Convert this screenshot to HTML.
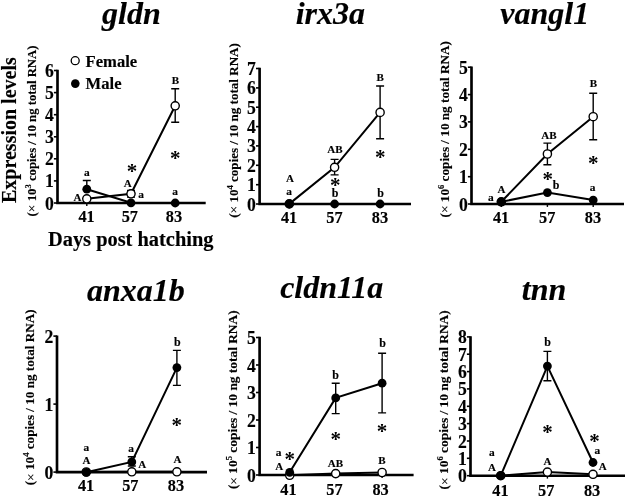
<!DOCTYPE html>
<html><head><meta charset="utf-8"><title>Expression levels</title>
<style>html,body{margin:0;padding:0;background:#fff}svg{display:block}text{font-family:"Liberation Serif",serif;font-weight:bold;fill:#000;stroke:#000;stroke-width:0.15px;stroke-linejoin:round}</style>
</head><body>
<svg width="627" height="498" viewBox="0 0 627 498">
<rect width="627" height="498" fill="#fff"/>
<defs><filter id="soft" x="0" y="0" width="627" height="498" filterUnits="userSpaceOnUse"><feGaussianBlur stdDeviation="0.45"/></filter></defs>
<g filter="url(#soft)">
<g>
<text x="131.4" y="24" font-size="32" font-style="italic" text-anchor="middle">gldn</text>
<path d="M57.5 69.8V203.0H205.7" fill="none" stroke="#000" stroke-width="2.65" stroke-linejoin="miter"/>
<line x1="53.9" x2="57.5" y1="203.0" y2="203.0" stroke="#000" stroke-width="1.6"/>
<text transform="translate(53.8 209.5) scale(0.96 1)" font-size="18.4" text-anchor="end">0</text>
<line x1="53.9" x2="57.5" y1="180.9" y2="180.9" stroke="#000" stroke-width="1.6"/>
<text transform="translate(53.8 187.4) scale(0.96 1)" font-size="18.4" text-anchor="end">1</text>
<line x1="53.9" x2="57.5" y1="158.8" y2="158.8" stroke="#000" stroke-width="1.6"/>
<text transform="translate(53.8 165.3) scale(0.96 1)" font-size="18.4" text-anchor="end">2</text>
<line x1="53.9" x2="57.5" y1="136.8" y2="136.8" stroke="#000" stroke-width="1.6"/>
<text transform="translate(53.8 143.3) scale(0.96 1)" font-size="18.4" text-anchor="end">3</text>
<line x1="53.9" x2="57.5" y1="114.7" y2="114.7" stroke="#000" stroke-width="1.6"/>
<text transform="translate(53.8 121.2) scale(0.96 1)" font-size="18.4" text-anchor="end">4</text>
<line x1="53.9" x2="57.5" y1="92.6" y2="92.6" stroke="#000" stroke-width="1.6"/>
<text transform="translate(53.8 99.1) scale(0.96 1)" font-size="18.4" text-anchor="end">5</text>
<line x1="53.9" x2="57.5" y1="70.5" y2="70.5" stroke="#000" stroke-width="1.6"/>
<text transform="translate(53.8 77.0) scale(0.96 1)" font-size="18.4" text-anchor="end">6</text>
<line x1="86.8" x2="86.8" y1="203.0" y2="205.9" stroke="#000" stroke-width="1.4"/>
<text x="86.6" y="222.4" font-size="16.3" text-anchor="middle">41</text>
<line x1="131.0" x2="131.0" y1="203.0" y2="205.9" stroke="#000" stroke-width="1.4"/>
<text x="129.8" y="222.4" font-size="16.3" text-anchor="middle">57</text>
<line x1="175.2" x2="175.2" y1="203.0" y2="205.9" stroke="#000" stroke-width="1.4"/>
<text x="174.0" y="222.4" font-size="16.3" text-anchor="middle">83</text>
<text transform="translate(35.5 216.4) rotate(-90)" font-size="12.75">(<tspan font-weight="normal" font-size="13.5" dy="0.9" style="font-weight:normal">×</tspan><tspan dy="-0.9"> 10</tspan><tspan dy="-4.8" font-size="8.6">3</tspan><tspan dy="4.8"> copies / 10 ng total RNA)</tspan></text>
<path d="M82.8 180.5H90.8M86.8 180.5V189.2M82.8 189.2H90.8" fill="none" stroke="#000" stroke-width="1.4"/>
<path d="M171.2 88.7H179.2M175.2 88.7V122.2M171.2 122.2H179.2" fill="none" stroke="#000" stroke-width="1.4"/>
<path d="M127.0 190.5H135.0M131.0 190.5V197M127.0 197H135.0" fill="none" stroke="#000" stroke-width="1.4"/>
<polyline points="86.8,198.8 131.0,193.8 175.2,105.8" fill="none" stroke="#000" stroke-width="2.0"/>
<circle cx="86.8" cy="198.8" r="4.1" fill="#fff" stroke="#000" stroke-width="1.4"/>
<circle cx="131.0" cy="193.8" r="4.1" fill="#fff" stroke="#000" stroke-width="1.4"/>
<circle cx="175.2" cy="105.8" r="4.1" fill="#fff" stroke="#000" stroke-width="1.4"/>
<polyline points="86.8,189.2 131.0,202.8 175.2,203.0" fill="none" stroke="#000" stroke-width="2.0"/>
<circle cx="86.8" cy="189.2" r="4.4" fill="#000"/>
<circle cx="131.0" cy="202.8" r="4.4" fill="#000"/>
<circle cx="175.2" cy="203.0" r="4.4" fill="#000"/>
<text x="86.8" y="176.2" font-size="11.4" text-anchor="middle">a</text>
<text x="77.6" y="201.3" font-size="11" text-anchor="middle">A</text>
<text x="127.8" y="187.2" font-size="11" text-anchor="middle">A</text>
<text x="141.0" y="197.9" font-size="11.4" text-anchor="middle">a</text>
<text x="175.4" y="84.2" font-size="11" text-anchor="middle">B</text>
<text x="175.2" y="195.4" font-size="11.4" text-anchor="middle">a</text>
<text x="131.9" y="177.8" font-size="21" text-anchor="middle" stroke="none" style="stroke:none">*</text>
<text x="175.3" y="164.7" font-size="21" text-anchor="middle" stroke="none" style="stroke:none">*</text>
</g>
<g>
<text x="330.3" y="24" font-size="32" font-style="italic" text-anchor="middle">irx3a</text>
<path d="M259.6 67.8V204.0H411" fill="none" stroke="#000" stroke-width="2.65" stroke-linejoin="miter"/>
<line x1="256.0" x2="259.6" y1="204.0" y2="204.0" stroke="#000" stroke-width="1.6"/>
<text transform="translate(255.9 210.5) scale(0.96 1)" font-size="18.4" text-anchor="end">0</text>
<line x1="256.0" x2="259.6" y1="184.7" y2="184.7" stroke="#000" stroke-width="1.6"/>
<text transform="translate(255.9 191.2) scale(0.96 1)" font-size="18.4" text-anchor="end">1</text>
<line x1="256.0" x2="259.6" y1="165.3" y2="165.3" stroke="#000" stroke-width="1.6"/>
<text transform="translate(255.9 171.8) scale(0.96 1)" font-size="18.4" text-anchor="end">2</text>
<line x1="256.0" x2="259.6" y1="145.9" y2="145.9" stroke="#000" stroke-width="1.6"/>
<text transform="translate(255.9 152.4) scale(0.96 1)" font-size="18.4" text-anchor="end">3</text>
<line x1="256.0" x2="259.6" y1="126.6" y2="126.6" stroke="#000" stroke-width="1.6"/>
<text transform="translate(255.9 133.1) scale(0.96 1)" font-size="18.4" text-anchor="end">4</text>
<line x1="256.0" x2="259.6" y1="107.2" y2="107.2" stroke="#000" stroke-width="1.6"/>
<text transform="translate(255.9 113.8) scale(0.96 1)" font-size="18.4" text-anchor="end">5</text>
<line x1="256.0" x2="259.6" y1="87.9" y2="87.9" stroke="#000" stroke-width="1.6"/>
<text transform="translate(255.9 94.4) scale(0.96 1)" font-size="18.4" text-anchor="end">6</text>
<line x1="256.0" x2="259.6" y1="68.5" y2="68.5" stroke="#000" stroke-width="1.6"/>
<text transform="translate(255.9 75.0) scale(0.96 1)" font-size="18.4" text-anchor="end">7</text>
<line x1="289.3" x2="289.3" y1="204.0" y2="206.9" stroke="#000" stroke-width="1.4"/>
<text x="289.1" y="223.0" font-size="16.3" text-anchor="middle">41</text>
<line x1="334.6" x2="334.6" y1="204.0" y2="206.9" stroke="#000" stroke-width="1.4"/>
<text x="334.4" y="223.0" font-size="16.3" text-anchor="middle">57</text>
<line x1="380.1" x2="380.1" y1="204.0" y2="206.9" stroke="#000" stroke-width="1.4"/>
<text x="379.9" y="223.0" font-size="16.3" text-anchor="middle">83</text>
<text transform="translate(237.5 217.8) rotate(-90)" font-size="13.06">(<tspan font-weight="normal" font-size="13.5" dy="0.9" style="font-weight:normal">×</tspan><tspan dy="-0.9"> 10</tspan><tspan dy="-4.8" font-size="8.6">4</tspan><tspan dy="4.8"> copies / 10 ng total RNA)</tspan></text>
<path d="M330.6 159.4H338.6M334.6 159.4V174.9M330.6 174.9H338.6" fill="none" stroke="#000" stroke-width="1.4"/>
<path d="M376.1 86.0H384.1M380.1 86.0V138.8M376.1 138.8H384.1" fill="none" stroke="#000" stroke-width="1.4"/>
<polyline points="289.3,203.9 334.6,167.3 380.1,112.4" fill="none" stroke="#000" stroke-width="2.0"/>
<circle cx="289.3" cy="203.9" r="4.1" fill="#fff" stroke="#000" stroke-width="1.4"/>
<circle cx="334.6" cy="167.3" r="4.1" fill="#fff" stroke="#000" stroke-width="1.4"/>
<circle cx="380.1" cy="112.4" r="4.1" fill="#fff" stroke="#000" stroke-width="1.4"/>
<polyline points="289.3,204 334.6,204 380.1,204" fill="none" stroke="#000" stroke-width="2.0"/>
<circle cx="289.3" cy="204" r="4.4" fill="#000"/>
<circle cx="334.6" cy="204" r="4.4" fill="#000"/>
<circle cx="380.1" cy="204" r="4.4" fill="#000"/>
<text x="289.9" y="182.0" font-size="11" text-anchor="middle">A</text>
<text x="289.0" y="195.2" font-size="11.4" text-anchor="middle">a</text>
<text x="334.9" y="153.0" font-size="11" text-anchor="middle">AB</text>
<text x="380.2" y="81.3" font-size="11" text-anchor="middle">B</text>
<text x="335.2" y="196.6" font-size="12" text-anchor="middle">b</text>
<text x="380.7" y="196.6" font-size="12" text-anchor="middle">b</text>
<text x="335.3" y="191.6" font-size="21" text-anchor="middle" stroke="none" style="stroke:none">*</text>
<text x="380.2" y="163.9" font-size="21" text-anchor="middle" stroke="none" style="stroke:none">*</text>
</g>
<g>
<text x="544.8" y="23.5" font-size="32" font-style="italic" text-anchor="middle">vangl1</text>
<path d="M471.5 66.5V204.0H624" fill="none" stroke="#000" stroke-width="2.65" stroke-linejoin="miter"/>
<line x1="467.9" x2="471.5" y1="204.0" y2="204.0" stroke="#000" stroke-width="1.6"/>
<text transform="translate(467.8 210.5) scale(0.96 1)" font-size="18.4" text-anchor="end">0</text>
<line x1="467.9" x2="471.5" y1="176.7" y2="176.7" stroke="#000" stroke-width="1.6"/>
<text transform="translate(467.8 183.2) scale(0.96 1)" font-size="18.4" text-anchor="end">1</text>
<line x1="467.9" x2="471.5" y1="149.3" y2="149.3" stroke="#000" stroke-width="1.6"/>
<text transform="translate(467.8 155.8) scale(0.96 1)" font-size="18.4" text-anchor="end">2</text>
<line x1="467.9" x2="471.5" y1="121.9" y2="121.9" stroke="#000" stroke-width="1.6"/>
<text transform="translate(467.8 128.4) scale(0.96 1)" font-size="18.4" text-anchor="end">3</text>
<line x1="467.9" x2="471.5" y1="94.6" y2="94.6" stroke="#000" stroke-width="1.6"/>
<text transform="translate(467.8 101.1) scale(0.96 1)" font-size="18.4" text-anchor="end">4</text>
<line x1="467.9" x2="471.5" y1="67.2" y2="67.2" stroke="#000" stroke-width="1.6"/>
<text transform="translate(467.8 73.8) scale(0.96 1)" font-size="18.4" text-anchor="end">5</text>
<line x1="501.3" x2="501.3" y1="204.0" y2="206.9" stroke="#000" stroke-width="1.4"/>
<text x="501.1" y="223.3" font-size="16.3" text-anchor="middle">41</text>
<line x1="547.4" x2="547.4" y1="204.0" y2="206.9" stroke="#000" stroke-width="1.4"/>
<text x="547.2" y="223.3" font-size="16.3" text-anchor="middle">57</text>
<line x1="593.2" x2="593.2" y1="204.0" y2="206.9" stroke="#000" stroke-width="1.4"/>
<text x="593.0" y="223.3" font-size="16.3" text-anchor="middle">83</text>
<text transform="translate(448.5 217.5) rotate(-90)" font-size="13.2">(<tspan font-weight="normal" font-size="13.5" dy="0.9" style="font-weight:normal">×</tspan><tspan dy="-0.9"> 10</tspan><tspan dy="-4.8" font-size="8.6">6</tspan><tspan dy="4.8"> copies / 10 ng total RNA)</tspan></text>
<path d="M543.4 143.1H551.4M547.4 143.1V164.8M543.4 164.8H551.4" fill="none" stroke="#000" stroke-width="1.4"/>
<path d="M589.2 93.2H597.2M593.2 93.2V139.8M589.2 139.8H597.2" fill="none" stroke="#000" stroke-width="1.4"/>
<polyline points="501.3,201.8 547.4,154.0 593.2,116.7" fill="none" stroke="#000" stroke-width="2.0"/>
<circle cx="501.3" cy="201.8" r="4.1" fill="#fff" stroke="#000" stroke-width="1.4"/>
<circle cx="547.4" cy="154.0" r="4.1" fill="#fff" stroke="#000" stroke-width="1.4"/>
<circle cx="593.2" cy="116.7" r="4.1" fill="#fff" stroke="#000" stroke-width="1.4"/>
<polyline points="501.3,201.8 547.4,192.6 593.2,200.1" fill="none" stroke="#000" stroke-width="2.0"/>
<circle cx="501.3" cy="201.8" r="4.4" fill="#000"/>
<circle cx="547.4" cy="192.6" r="4.4" fill="#000"/>
<circle cx="593.2" cy="200.1" r="4.4" fill="#000"/>
<text x="501.6" y="193.2" font-size="11" text-anchor="middle">A</text>
<text x="490.8" y="200.6" font-size="11.4" text-anchor="middle">a</text>
<text x="549.0" y="138.6" font-size="11" text-anchor="middle">AB</text>
<text x="593.4" y="87.1" font-size="11" text-anchor="middle">B</text>
<text x="556.1" y="188.6" font-size="12" text-anchor="middle">b</text>
<text x="592.6" y="191.3" font-size="11.4" text-anchor="middle">a</text>
<text x="547.7" y="186.2" font-size="21" text-anchor="middle" stroke="none" style="stroke:none">*</text>
<text x="593.2" y="169.9" font-size="21" text-anchor="middle" stroke="none" style="stroke:none">*</text>
</g>
<g>
<text x="135.9" y="300.7" font-size="32" font-style="italic" text-anchor="middle">anxa1b</text>
<path d="M57.0 335.4V472.1H207" fill="none" stroke="#000" stroke-width="2.65" stroke-linejoin="miter"/>
<line x1="53.4" x2="57.0" y1="472.1" y2="472.1" stroke="#000" stroke-width="1.6"/>
<text transform="translate(53.3 478.6) scale(0.96 1)" font-size="18.4" text-anchor="end">0</text>
<line x1="53.4" x2="57.0" y1="404.1" y2="404.1" stroke="#000" stroke-width="1.6"/>
<text transform="translate(53.3 410.6) scale(0.96 1)" font-size="18.4" text-anchor="end">1</text>
<line x1="53.4" x2="57.0" y1="336.1" y2="336.1" stroke="#000" stroke-width="1.6"/>
<text transform="translate(53.3 342.6) scale(0.96 1)" font-size="18.4" text-anchor="end">2</text>
<line x1="86.3" x2="86.3" y1="472.1" y2="475.0" stroke="#000" stroke-width="1.4"/>
<text x="86.1" y="491.0" font-size="16.3" text-anchor="middle">41</text>
<line x1="131.8" x2="131.8" y1="472.1" y2="475.0" stroke="#000" stroke-width="1.4"/>
<text x="130.3" y="491.0" font-size="16.3" text-anchor="middle">57</text>
<line x1="176.9" x2="176.9" y1="472.1" y2="475.0" stroke="#000" stroke-width="1.4"/>
<text x="176.0" y="491.0" font-size="16.3" text-anchor="middle">83</text>
<text transform="translate(34.2 485.3) rotate(-90)" font-size="13.15">(<tspan font-weight="normal" font-size="13.5" dy="0.9" style="font-weight:normal">×</tspan><tspan dy="-0.9"> 10</tspan><tspan dy="-4.8" font-size="8.6">4</tspan><tspan dy="4.8"> copies / 10 ng total RNA)</tspan></text>
<path d="M172.9 350.4H180.9M176.9 350.4V385.4M172.9 385.4H180.9" fill="none" stroke="#000" stroke-width="1.4"/>
<path d="M127.80000000000001 456.8H135.8M131.8 456.8V466.0M127.80000000000001 466.0H135.8" fill="none" stroke="#000" stroke-width="1.4"/>
<polyline points="86.3,472.0 131.8,471.8 176.9,471.8" fill="none" stroke="#000" stroke-width="2.0"/>
<circle cx="86.3" cy="472.0" r="4.1" fill="#fff" stroke="#000" stroke-width="1.4"/>
<circle cx="131.8" cy="471.8" r="4.1" fill="#fff" stroke="#000" stroke-width="1.4"/>
<circle cx="176.9" cy="471.8" r="4.1" fill="#fff" stroke="#000" stroke-width="1.4"/>
<polyline points="86.3,472.3 131.8,461.9 176.9,367.6" fill="none" stroke="#000" stroke-width="2.0"/>
<circle cx="86.3" cy="472.3" r="4.4" fill="#000"/>
<circle cx="131.8" cy="461.9" r="4.4" fill="#000"/>
<circle cx="176.9" cy="367.6" r="4.4" fill="#000"/>
<text x="86.5" y="463.9" font-size="11" text-anchor="middle">A</text>
<text x="86.3" y="450.6" font-size="11.4" text-anchor="middle">a</text>
<text x="131.0" y="452.0" font-size="11.4" text-anchor="middle">a</text>
<text x="142.2" y="467.9" font-size="11" text-anchor="middle">A</text>
<text x="177.5" y="462.9" font-size="11" text-anchor="middle">A</text>
<text x="177.4" y="345.7" font-size="12" text-anchor="middle">b</text>
<text x="176.7" y="432.0" font-size="21" text-anchor="middle" stroke="none" style="stroke:none">*</text>
</g>
<g>
<text x="331.7" y="298.4" font-size="32" font-style="italic" text-anchor="middle">cldn11a</text>
<path d="M259.6 336.8V475.0H413.6" fill="none" stroke="#000" stroke-width="2.65" stroke-linejoin="miter"/>
<line x1="256.0" x2="259.6" y1="475.0" y2="475.0" stroke="#000" stroke-width="1.6"/>
<text transform="translate(255.9 481.5) scale(0.96 1)" font-size="18.4" text-anchor="end">0</text>
<line x1="256.0" x2="259.6" y1="447.5" y2="447.5" stroke="#000" stroke-width="1.6"/>
<text transform="translate(255.9 454.0) scale(0.96 1)" font-size="18.4" text-anchor="end">1</text>
<line x1="256.0" x2="259.6" y1="420.0" y2="420.0" stroke="#000" stroke-width="1.6"/>
<text transform="translate(255.9 426.5) scale(0.96 1)" font-size="18.4" text-anchor="end">2</text>
<line x1="256.0" x2="259.6" y1="392.5" y2="392.5" stroke="#000" stroke-width="1.6"/>
<text transform="translate(255.9 399.0) scale(0.96 1)" font-size="18.4" text-anchor="end">3</text>
<line x1="256.0" x2="259.6" y1="365.0" y2="365.0" stroke="#000" stroke-width="1.6"/>
<text transform="translate(255.9 371.5) scale(0.96 1)" font-size="18.4" text-anchor="end">4</text>
<line x1="256.0" x2="259.6" y1="337.5" y2="337.5" stroke="#000" stroke-width="1.6"/>
<text transform="translate(255.9 344.0) scale(0.96 1)" font-size="18.4" text-anchor="end">5</text>
<line x1="289.7" x2="289.7" y1="475.0" y2="477.9" stroke="#000" stroke-width="1.4"/>
<text x="288.5" y="495.2" font-size="16.3" text-anchor="middle">41</text>
<line x1="335.7" x2="335.7" y1="475.0" y2="477.9" stroke="#000" stroke-width="1.4"/>
<text x="334.5" y="495.2" font-size="16.3" text-anchor="middle">57</text>
<line x1="382.1" x2="382.1" y1="475.0" y2="477.9" stroke="#000" stroke-width="1.4"/>
<text x="380.6" y="495.2" font-size="16.3" text-anchor="middle">83</text>
<text transform="translate(236.9 489.1) rotate(-90)" font-size="13.38">(<tspan font-weight="normal" font-size="13.5" dy="0.9" style="font-weight:normal">×</tspan><tspan dy="-0.9"> 10</tspan><tspan dy="-4.8" font-size="8.6">5</tspan><tspan dy="4.8"> copies / 10 ng total RNA)</tspan></text>
<path d="M331.7 383.2H339.7M335.7 383.2V413.6M331.7 413.6H339.7" fill="none" stroke="#000" stroke-width="1.4"/>
<path d="M378.1 353.2H386.1M382.1 353.2V412.9M378.1 412.9H386.1" fill="none" stroke="#000" stroke-width="1.4"/>
<polyline points="289.7,475.3 335.7,473.6 382.1,472.5" fill="none" stroke="#000" stroke-width="2.0"/>
<circle cx="289.7" cy="475.3" r="4.1" fill="#fff" stroke="#000" stroke-width="1.4"/>
<circle cx="335.7" cy="473.6" r="4.1" fill="#fff" stroke="#000" stroke-width="1.4"/>
<circle cx="382.1" cy="472.5" r="4.1" fill="#fff" stroke="#000" stroke-width="1.4"/>
<polyline points="289.7,472.3 335.7,397.9 382.1,383.2" fill="none" stroke="#000" stroke-width="2.0"/>
<circle cx="289.7" cy="472.3" r="4.4" fill="#000"/>
<circle cx="335.7" cy="397.9" r="4.4" fill="#000"/>
<circle cx="382.1" cy="383.2" r="4.4" fill="#000"/>
<text x="278.5" y="455.8" font-size="11.4" text-anchor="middle">a</text>
<text x="279.2" y="469.9" font-size="11" text-anchor="middle">A</text>
<text x="335.6" y="379.0" font-size="12" text-anchor="middle">b</text>
<text x="382.6" y="346.8" font-size="12" text-anchor="middle">b</text>
<text x="335.4" y="466.9" font-size="11" text-anchor="middle">AB</text>
<text x="382.0" y="463.6" font-size="11" text-anchor="middle">B</text>
<text x="289.8" y="466.4" font-size="21" text-anchor="middle" stroke="none" style="stroke:none">*</text>
<text x="335.7" y="446.3" font-size="21" text-anchor="middle" stroke="none" style="stroke:none">*</text>
<text x="381.9" y="437.6" font-size="21" text-anchor="middle" stroke="none" style="stroke:none">*</text>
</g>
<g>
<text x="544.0" y="299.6" font-size="32" font-style="italic" text-anchor="middle">tnn</text>
<path d="M470.5 336.2V475.7H625" fill="none" stroke="#000" stroke-width="2.65" stroke-linejoin="miter"/>
<line x1="466.9" x2="470.5" y1="475.7" y2="475.7" stroke="#000" stroke-width="1.6"/>
<text transform="translate(466.8 482.2) scale(0.96 1)" font-size="18.4" text-anchor="end">0</text>
<line x1="466.9" x2="470.5" y1="458.3" y2="458.3" stroke="#000" stroke-width="1.6"/>
<text transform="translate(466.8 464.8) scale(0.96 1)" font-size="18.4" text-anchor="end">1</text>
<line x1="466.9" x2="470.5" y1="441.0" y2="441.0" stroke="#000" stroke-width="1.6"/>
<text transform="translate(466.8 447.5) scale(0.96 1)" font-size="18.4" text-anchor="end">2</text>
<line x1="466.9" x2="470.5" y1="423.6" y2="423.6" stroke="#000" stroke-width="1.6"/>
<text transform="translate(466.8 430.1) scale(0.96 1)" font-size="18.4" text-anchor="end">3</text>
<line x1="466.9" x2="470.5" y1="406.3" y2="406.3" stroke="#000" stroke-width="1.6"/>
<text transform="translate(466.8 412.8) scale(0.96 1)" font-size="18.4" text-anchor="end">4</text>
<line x1="466.9" x2="470.5" y1="388.9" y2="388.9" stroke="#000" stroke-width="1.6"/>
<text transform="translate(466.8 395.4) scale(0.96 1)" font-size="18.4" text-anchor="end">5</text>
<line x1="466.9" x2="470.5" y1="371.6" y2="371.6" stroke="#000" stroke-width="1.6"/>
<text transform="translate(466.8 378.1) scale(0.96 1)" font-size="18.4" text-anchor="end">6</text>
<line x1="466.9" x2="470.5" y1="354.2" y2="354.2" stroke="#000" stroke-width="1.6"/>
<text transform="translate(466.8 360.8) scale(0.96 1)" font-size="18.4" text-anchor="end">7</text>
<line x1="466.9" x2="470.5" y1="336.9" y2="336.9" stroke="#000" stroke-width="1.6"/>
<text transform="translate(466.8 343.4) scale(0.96 1)" font-size="18.4" text-anchor="end">8</text>
<line x1="500.7" x2="500.7" y1="475.7" y2="478.6" stroke="#000" stroke-width="1.4"/>
<text x="500.5" y="495.6" font-size="16.3" text-anchor="middle">41</text>
<line x1="547.4" x2="547.4" y1="475.7" y2="478.6" stroke="#000" stroke-width="1.4"/>
<text x="546.2" y="495.6" font-size="16.3" text-anchor="middle">57</text>
<line x1="593.0" x2="593.0" y1="475.7" y2="478.6" stroke="#000" stroke-width="1.4"/>
<text x="592.1" y="495.6" font-size="16.3" text-anchor="middle">83</text>
<text transform="translate(447.9 489.4) rotate(-90)" font-size="13.42">(<tspan font-weight="normal" font-size="13.5" dy="0.9" style="font-weight:normal">×</tspan><tspan dy="-0.9"> 10</tspan><tspan dy="-4.8" font-size="8.6">6</tspan><tspan dy="4.8"> copies / 10 ng total RNA)</tspan></text>
<path d="M543.4 351.4H551.4M547.4 351.4V380.7M543.4 380.7H551.4" fill="none" stroke="#000" stroke-width="1.4"/>
<polyline points="500.7,475.7 547.4,472.1 593.0,474.3" fill="none" stroke="#000" stroke-width="2.0"/>
<circle cx="500.7" cy="475.7" r="4.1" fill="#fff" stroke="#000" stroke-width="1.4"/>
<circle cx="547.4" cy="472.1" r="4.1" fill="#fff" stroke="#000" stroke-width="1.4"/>
<circle cx="593.0" cy="474.3" r="4.1" fill="#fff" stroke="#000" stroke-width="1.4"/>
<polyline points="500.7,475.7 547.4,366.1 593.0,462.5" fill="none" stroke="#000" stroke-width="2.0"/>
<circle cx="500.7" cy="475.7" r="4.4" fill="#000"/>
<circle cx="547.4" cy="366.1" r="4.4" fill="#000"/>
<circle cx="593.0" cy="462.5" r="4.4" fill="#000"/>
<text x="491.8" y="456.2" font-size="11.4" text-anchor="middle">a</text>
<text x="492.0" y="471.3" font-size="11" text-anchor="middle">A</text>
<text x="547.6" y="345.6" font-size="12" text-anchor="middle">b</text>
<text x="547.6" y="465.0" font-size="11" text-anchor="middle">A</text>
<text x="597.4" y="453.6" font-size="11.4" text-anchor="middle">a</text>
<text x="602.7" y="470.3" font-size="11" text-anchor="middle">A</text>
<text x="547.4" y="438.5" font-size="21" text-anchor="middle" stroke="none" style="stroke:none">*</text>
<text x="594.6" y="447.8" font-size="21" text-anchor="middle" stroke="none" style="stroke:none">*</text>
</g>
<text transform="translate(16.4 203.0) rotate(-90)" font-size="20">Expression levels</text>
<text x="48" y="246.1" font-size="20.4">Days post hatching</text>
<circle cx="75.2" cy="60.7" r="4.0" fill="#fff" stroke="#000" stroke-width="1.3"/>
<circle cx="75.3" cy="83.6" r="4.3" fill="#000"/>
<text x="85.6" y="67" font-size="16.6">Female</text>
<text x="85.6" y="89.4" font-size="16.6">Male</text>
</g>
</svg>
</body></html>
